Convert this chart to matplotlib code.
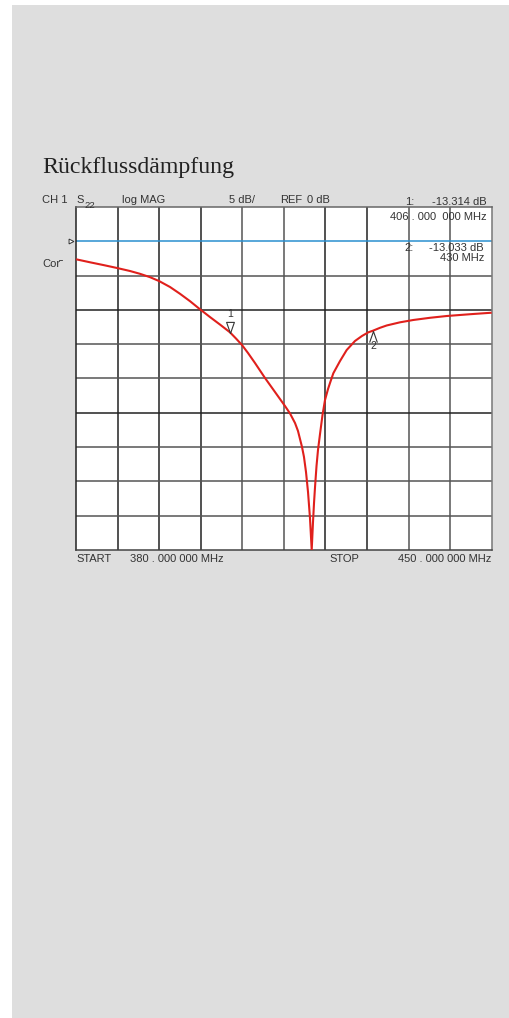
import matplotlib
matplotlib.use('Agg')
import matplotlib.pyplot as plt
from matplotlib.path import Path
from matplotlib.patches import Rectangle
from matplotlib.markers import MarkerStyle
import numpy as np

W, H = 510, 1018

# ---- data ----
freq_mhz = [380.00, 382.36, 384.71, 386.90, 389.09, 390.78, 392.46, 393.98, 395.83, 397.51,
            399.20, 400.88, 402.56, 404.25, 405.93, 406.94, 407.95, 408.96, 410.14, 411.83,
            413.51, 415.19, 416.04, 416.88, 417.38, 417.72, 418.06, 418.39, 418.73, 419.07,
            419.40, 419.69, 419.91, 420.08, 420.25, 420.50, 420.75, 421.09, 421.51, 421.93,
            422.44, 422.77, 423.33, 424.46, 425.58, 426.98, 428.16, 429.22, 430.01, 431.19,
            432.32, 434.56, 436.80, 439.61, 442.42, 446.35, 450.00]
s22_db = [-2.62, -3.06, -3.48, -3.89, -4.33, -4.74, -5.23, -5.79, -6.66, -7.65,
          -8.73, -9.91, -11.04, -12.14, -13.27, -14.17, -15.12, -16.28, -17.74, -19.93,
          -21.97, -24.01, -25.10, -26.49, -27.65, -28.82, -29.99, -31.44, -33.63, -36.55,
          -40.34, -45.00, -40.92, -38.15, -35.82, -32.76, -30.42, -28.09, -25.32, -23.13,
          -21.53, -20.66, -19.24, -17.45, -15.85, -14.53, -13.80, -13.27, -13.03, -12.61,
          -12.27, -11.81, -11.47, -11.15, -10.89, -10.63, -10.41]
marker_freq = [406.0, 430.0]
marker_db = [-13.314, -13.033]
marker_names = ["1", "2"]
start_mhz, stop_mhz = 380.0, 450.0
ref_db = 0.0
scale_db = 5.0
y_top, y_bottom = 5.0, -45.0

fig = plt.figure(figsize=(W / 100, H / 100), dpi=100)
fig.patch.set_facecolor('white')
fig.patches.append(Rectangle((12 / W, 0), 1 - 12 / W, 1 - 5 / H,
                             transform=fig.transFigure, facecolor='#dedede',
                             edgecolor='none', zorder=-10))

L, R, T, B = 76, 491.7, 207, 550
ax = fig.add_axes([L / W, 1 - B / H, (R - L) / W, (B - T) / H])
ax.set_facecolor('white')
ax.set_xlim(start_mhz, stop_mhz)
ax.set_ylim(y_bottom, y_top)
xt = np.linspace(start_mhz, stop_mhz, 11)
yt = np.arange(y_bottom, y_top + 0.1, scale_db)
ax.set_xticks(xt)
ax.set_yticks(yt)
ax.tick_params(length=0, labelbottom=False, labelleft=False)
vcols = ['#222', '#222', '#222', '#555', '#555', '#222', '#222', '#555', '#555']
for i, x in enumerate(xt[1:-1]):
    ax.axvline(x, color=vcols[i], lw=1.1, zorder=1)
hcols = ['#555', '#555', '#555', '#222', '#555', '#555', '#222', '#555', '#555']
for i, y in enumerate(yt[1:-1]):
    if y == ref_db:
        continue
    ax.axhline(y, color=hcols[i], lw=1.1, zorder=1)
for side, c in [('left', '#222'), ('top', '#666'), ('right', '#777'), ('bottom', '#444')]:
    ax.spines[side].set_color(c)
    ax.spines[side].set_linewidth(1.1)

ax.axhline(ref_db, color='#2a8fd0', lw=1.1, zorder=2)
ax.plot(freq_mhz, s22_db, color='#e0201c', lw=1.5, zorder=4,
        solid_joinstyle='round', solid_capstyle='butt')

# markers
down_tri = Path([(0, 0), (-0.35, 1), (0.35, 1), (0, 0)],
                [Path.MOVETO, Path.LINETO, Path.LINETO, Path.CLOSEPOLY])
up_tri = Path([(-0.35, -1), (0, 0), (0.35, -1)],
              [Path.MOVETO, Path.LINETO, Path.LINETO])
tcol = '#333333'
ax.plot([marker_freq[0]], [marker_db[0]], marker=MarkerStyle(down_tri), ms=16,
        mfc='white', mec=tcol, mew=0.8, ls='none', zorder=5)
ax.annotate(marker_names[0], (marker_freq[0], marker_db[0]), xytext=(-0.5, 9.5),
            textcoords='offset points', ha='center', va='bottom',
            fontsize=7.5, family='Liberation Sans', color=tcol)
ax.plot([marker_freq[1]], [marker_db[1]], marker=MarkerStyle(up_tri), ms=16,
        mfc='none', mec=tcol, mew=0.8, ls='none', zorder=5)
ax.annotate(marker_names[1], (marker_freq[1], marker_db[1]), xytext=(0, -7.5),
            textcoords='offset points', ha='center', va='top',
            fontsize=7.5, family='Liberation Sans', color=tcol)

# reference position indicator
ax.plot([-0.012], [ref_db], marker='>', ms=3.5, mfc='white', mec=tcol, mew=0.7,
        transform=ax.get_yaxis_transform(), clip_on=False)


def ftext(x, y, s, size=8, ha='left', family='Liberation Sans', color=tcol, **kw):
    fig.text(x / W, 1 - y / H, s, ha=ha, va='baseline', fontsize=size,
             family=family, color=color, **kw)


ftext(42, 173, 'Rückflussdämpfung', size=17.2, family='Liberation Serif', color='#222222')
ftext(42, 203, 'CH 1')
ftext(76, 203, 'S')
ftext(84, 208, '22', size=6.8)
ftext(122, 203, 'log MAG')
ftext(229, 203, f'{scale_db:g} dB/')
ftext(280, 203, 'REF')
ftext(307, 203, f'{ref_db:g} dB')
ftext(405, 205, '1:')
ftext(487, 205, f'{marker_db[0]:.3f} dB', ha='right')
ftext(487, 220, '406 . 000  000 MHz', ha='right')
ftext(404, 251, '2:')
ftext(484, 251, f'{marker_db[1]:.3f} dB', ha='right')
ftext(484, 261, '430 MHz', ha='right')
ftext(42, 267, 'Cor')
fig.add_artist(plt.Line2D([59.5 / W, 62 / W], [1 - 260 / H, 1 - 260 / H], color=tcol, lw=0.6))
ftext(76, 562, 'START')
ftext(130, 562, '380 . 000 000 MHz')
ftext(329, 562, 'STOP')
ftext(491, 562, '450 . 000 000 MHz', ha='right')

fig.savefig('out.png', dpi=100, facecolor='white')
